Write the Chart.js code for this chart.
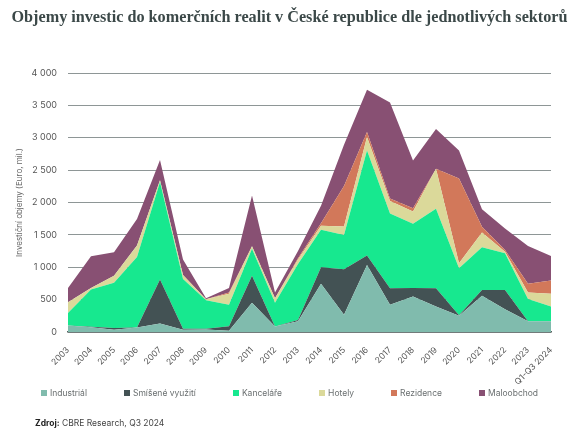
<!DOCTYPE html>
<html lang="cs">
<head>
  <meta charset="UTF-8" />
  <title>Objemy investic do komerčních realit</title>
  <script src="https://cdn.jsdelivr.net/npm/chart.js"></script>
  <style>
    body { margin: 0; background: #fff; width: 579px; height: 446px; position: relative; overflow: hidden; }
    .title {
      position: absolute; top: 8px; left: 0; width: 579px; text-align: center; white-space: nowrap;
      font: bold 16.2px "Liberation Serif", "Times New Roman", serif; color: #3b4848;
    }
    .chart-box { position: absolute; top: 0; left: 0; width: 579px; height: 446px; }
    .legend {
      position: absolute; top: 388px; left: 0; width: 579px;
      display: flex; justify-content: center; gap: 37px;
      font: 8.5px Inter, sans-serif; color: #6a6f70;
    }
    .legend span.box { display: inline-block; width: 6px; height: 6px; margin-right: 3px; vertical-align: 0px; }
    .source {
      position: absolute; top: 418px; left: 35px;
      font: 8.5px Inter, sans-serif; color: #444;
    }
    .source b { color: #222; }
  </style>
</head>
<body>

  <div class="chart-box">
    <canvas id="areaCanvas"></canvas>
  </div>

  <div class="title">Objemy investic do komerčních realit v České republice dle jednotlivých sektorů</div>

  <div class="legend" id="legend"></div>

  <div class="source"><b>Zdroj:</b> CBRE Research, Q3 2024</div>

  <script>
    const years = ['2003', '2004', '2005', '2006', '2007', '2008', '2009', '2010', '2011', '2012', '2013',
      '2014', '2015', '2016', '2017', '2018', '2019', '2020', '2021', '2022', '2023', 'Q1-Q3 2024'];

    const industrial  = [100, 75, 35, 70, 130, 35, 40, 20, 450, 85, 165, 745, 265, 1035, 420, 550, 395, 250, 560, 350, 165, 165];
    const mixedUse    = [0, 5, 25, 0, 680, 15, 10, 70, 420, 0, 20, 255, 705, 145, 255, 130, 280, 10, 90, 300, 0, 0];
    const offices     = [195, 575, 700, 1090, 1505, 770, 440, 330, 415, 365, 865, 580, 530, 1625, 1155, 990, 1230, 725, 660, 565, 345, 230];
    const hotels      = [165, 25, 110, 175, 30, 60, 15, 170, 40, 70, 70, 60, 130, 205, 195, 190, 615, 75, 225, 25, 100, 195];
    const residential = [0, 0, 0, 0, 0, 0, 0, 20, 0, 0, 20, 40, 625, 80, 35, 50, 0, 1310, 90, 25, 135, 205];
    const retail      = [220, 490, 360, 410, 310, 240, 15, 70, 785, 90, 110, 270, 635, 650, 1485, 740, 615, 435, 270, 335, 585, 380];

    const seriesNames  = ['Industriál', 'Smíšené využití', 'Kanceláře', 'Hotely', 'Rezidence', 'Maloobchod'];
    const seriesColors = ['#80bbad', '#435254', '#17e88f', '#dbd99a', '#d2785a', '#885073'];
    const seriesData   = [industrial, mixedUse, offices, hotels, residential, retail];

    const yTicks = [0, 500, 1000, 1500, 2000, 2500, 3000, 3500, 4000];

    function formatThousands(v) {
      return String(v).replace(/\B(?=(\d{3})+(?!\d))/g, ' ');
    }

    const datasets = seriesData.map((data, i) => ({
      label: seriesNames[i],
      data: data,
      backgroundColor: seriesColors[i],
      borderWidth: 0,
      pointRadius: 0,
      tension: 0,
      fill: i === 0 ? 'origin' : '-1'
    }));

    const ctx = document.getElementById('areaCanvas').getContext('2d');
    new Chart(ctx, {
      type: 'line',
      data: { labels: years, datasets: datasets },
      options: {
        responsive: true,
        maintainAspectRatio: false,
        animation: false,
        layout: { padding: { top: 73, right: 28, bottom: 50, left: 0 } },
        plugins: {
          legend: { display: false },
          tooltip: { enabled: false }
        },
        scales: {
          x: {
            offset: false,
            grid: { display: false },
            border: { display: true, color: '#56615f', width: 1.5 },
            ticks: {
              autoSkip: false,
              minRotation: 45,
              maxRotation: 45,
              padding: 5,
              color: '#555',
              font: { family: 'Inter', size: 8.5 }
            },
            afterFit: (scale) => { scale.height = 64; }
          },
          y: {
            stacked: true,
            min: 0,
            max: 4000,
            afterBuildTicks: (scale) => { scale.ticks = yTicks.map(v => ({ value: v })); },
            grid: { color: '#8e9696', lineWidth: 1, drawTicks: false },
            border: { display: false },
            ticks: {
              padding: 11,
              color: '#555',
              font: { family: 'Inter', size: 9 },
              callback: (v) => formatThousands(v)
            },
            title: {
              display: true,
              text: 'Investiční objemy (Euro, mil.)',
              color: '#666',
              font: { family: 'Inter', size: 8 },
              padding: { top: 15, bottom: 0 }
            },
            afterFit: (scale) => { scale.width = 68; }
          }
        }
      }
    });

    const legend = document.getElementById('legend');
    seriesNames.forEach((name, i) => {
      const item = document.createElement('div');
      item.innerHTML = '<span class="box" style="background:' + seriesColors[i] + '"></span>' + name;
      legend.appendChild(item);
    });
  </script>

</body>
</html>
